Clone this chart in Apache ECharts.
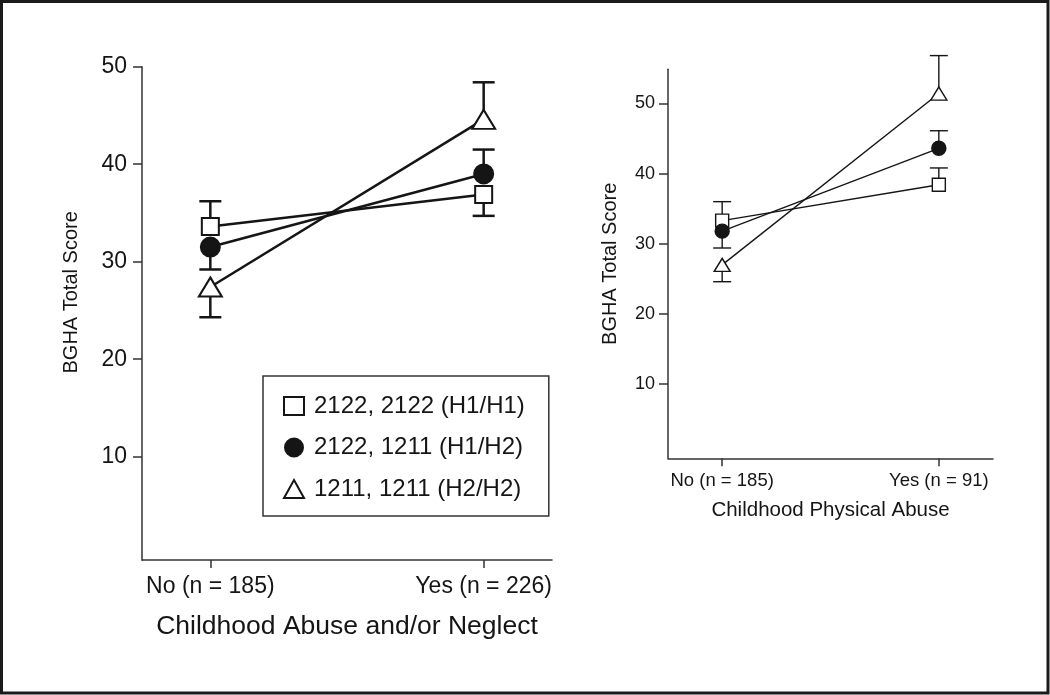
<!DOCTYPE html>
<html><head><meta charset="utf-8">
<script src="https://cdn.jsdelivr.net/npm/echarts@6/dist/echarts.min.js"></script>
<style>html,body{margin:0;padding:0;background:#fff}#c{width:1050px;height:695px}</style>
</head><body><div id="c"></div>
<script>
const groups = ['2122, 2122 (H1/H1)', '2122, 1211 (H1/H2)', '1211, 1211 (H2/H2)'];
const leftCategories = ['No (n = 185)', 'Yes (n = 226)'];
const rightCategories = ['No (n = 185)', 'Yes (n = 91)'];
const yTicks = [10, 20, 30, 40, 50];
const xTicks = [0, 1];
const leftTitleX = 'Childhood Abuse and/or Neglect';
const rightTitleX = 'Childhood Physical Abuse';
const titleY = 'BGHA Total Score';

// Left panel means (No, Yes) and error-bar ends (No, Yes)
const leftH1H1 = [33.6, 36.9];
const leftH1H2 = [31.5, 39.0];
const leftH2H2 = [27.4, 44.6];
const leftErrH1H1 = [36.2, 34.7];
const leftErrH1H2 = [29.2, 41.5];
const leftErrH2H2 = [24.3, 48.4];

// Right panel means (No, Yes) and error-bar ends (No, Yes)
const rightH1H1 = [33.3, 38.4];
const rightH1H2 = [31.8, 43.6];
const rightH2H2 = [27.0, 51.4];
const rightErrH1H1 = [36.0, 40.8];
const rightErrH1H2 = [29.4, 46.1];
const rightErrH2H2 = [24.6, 56.8];

const FONT = '"Liberation Sans","Arimo",Arial,sans-serif';
const INK = '#151515';
const chart = echarts.init(document.getElementById('c'));

const symbols = ['rect', 'circle', 'triangle'];
const fills = ['#fff', INK, '#fff'];

function lineSeries(name, idx, vals, axis, sizes, lw, bw) {
  return {
    type: 'line', name: name, xAxisIndex: axis, yAxisIndex: axis,
    data: vals.map((v, i) => [xTicks[i], v]),
    symbol: symbols[idx], symbolSize: sizes[idx], showSymbol: true,
    lineStyle: {color: INK, width: lw},
    itemStyle: {color: fills[idx], borderColor: INK, borderWidth: bw, opacity: 1},
    z: 5, silent: true, animation: false
  };
}
function errSeries(vals, ends, axis, cap, lw) {
  return {
    type: 'custom', xAxisIndex: axis, yAxisIndex: axis, z: 2, silent: true, animation: false,
    data: vals.map((v, i) => [xTicks[i], v, ends[i]]),
    renderItem: function (params, api) {
      const a = api.coord([api.value(0), api.value(1)]);
      const b = api.coord([api.value(0), api.value(2)]);
      const st = {stroke: INK, lineWidth: lw, fill: null};
      return {type: 'group', children: [
        {type: 'line', shape: {x1: a[0], y1: a[1], x2: b[0], y2: b[1]}, style: st},
        {type: 'line', shape: {x1: b[0] - cap / 2, y1: b[1], x2: b[0] + cap / 2, y2: b[1]}, style: st}
      ]};
    }
  };
}

const leftSizes = [17, 19, [23, 19]];
const rightSizes = [13, 14, [16, 13]];

const series = [
  errSeries(leftH1H1, leftErrH1H1, 0, 22, 2.5),
  errSeries(leftH1H2, leftErrH1H2, 0, 22, 2.5),
  errSeries(leftH2H2, leftErrH2H2, 0, 22, 2.5),
  lineSeries(groups[0], 0, leftH1H1, 0, leftSizes, 2.5, 2),
  lineSeries(groups[1], 1, leftH1H2, 0, leftSizes, 2.5, 2),
  lineSeries(groups[2], 2, leftH2H2, 0, leftSizes, 2.5, 2),
  errSeries(rightH1H1, rightErrH1H1, 1, 18, 1.4),
  errSeries(rightH1H2, rightErrH1H2, 1, 18, 1.4),
  errSeries(rightH2H2, rightErrH2H2, 1, 18, 1.4),
  lineSeries(groups[0], 0, rightH1H1, 1, rightSizes, 1.4, 1.4),
  lineSeries(groups[1], 1, rightH1H2, 1, rightSizes, 1.4, 1.4),
  lineSeries(groups[2], 2, rightH2H2, 1, rightSizes, 1.4, 1.4)
];

function xAxis(grid, cats, title, fs, tfs, margin, gap) {
  return {
    type: 'value', gridIndex: grid, min: -0.25, max: 1.25,
    axisLine: {show: true, onZero: false, lineStyle: {color: '#333', width: 1.5}},
    axisTick: {show: true, customValues: xTicks, length: 8, lineStyle: {color: '#333', width: 1.5}},
    axisLabel: {customValues: xTicks, formatter: v => cats[Math.round(v)], fontFamily: FONT, fontSize: fs, color: INK, margin: margin},
    splitLine: {show: false},
    name: title, nameLocation: 'middle', nameGap: gap,
    nameTextStyle: {fontFamily: FONT, fontSize: tfs, color: INK}
  };
}
function yAxis(grid, min, max, fs, margin, gap, pad) {
  return {
    type: 'value', gridIndex: grid, min: min, max: max,
    axisLine: {show: true, onZero: false, lineStyle: {color: '#333', width: 1.5}},
    axisTick: {show: true, customValues: yTicks, length: 9, lineStyle: {color: '#333', width: 1.5}},
    axisLabel: {customValues: yTicks, fontFamily: FONT, fontSize: fs, color: INK, margin: margin},
    splitLine: {show: false},
    name: titleY, nameLocation: 'middle', nameGap: gap,
    nameTextStyle: {fontFamily: FONT, fontSize: 20, color: INK, padding: pad}
  };
}

chart.setOption({
  animation: false,
  backgroundColor: '#fff',
  grid: [
    {left: 142, top: 66.7, width: 410, height: 493.3},
    {left: 668, top: 69.3, width: 325, height: 389}
  ],
  xAxis: [
    xAxis(0, leftCategories, leftTitleX, 23, 26.5, 15, 53),
    xAxis(1, rightCategories, rightTitleX, 18.5, 20.5, 13, 42)
  ],
  yAxis: [
    yAxis(0, -0.6, 50, 23, 15, 61, [0, 0, 0, 42]),
    yAxis(1, -0.55, 54.85, 18, 13, 48, [0, 0, 0, 0])
  ],
  legend: {
    show: true, orient: 'vertical', left: 263, top: 376,
    data: groups.map((g, i) => ({name: g, icon: symbols[i]})),
    itemWidth: 20, itemHeight: 18, itemGap: 11.5,
    padding: [15, 24, 12, 20],
    borderColor: '#333', borderWidth: 1.5, backgroundColor: '#fff',
    selectedMode: false,
    textStyle: {fontFamily: FONT, fontSize: 24, color: INK, lineHeight: 30, padding: [0, 0, 0, 5]}
  },
  graphic: [{
    type: 'rect', silent: true, z: 100,
    shape: {x: 1.5, y: 1.5, width: 1046.5, height: 691.5},
    style: {fill: null, stroke: '#1a1a1a', lineWidth: 3}
  }],
  series: series
});
</script></body></html>
